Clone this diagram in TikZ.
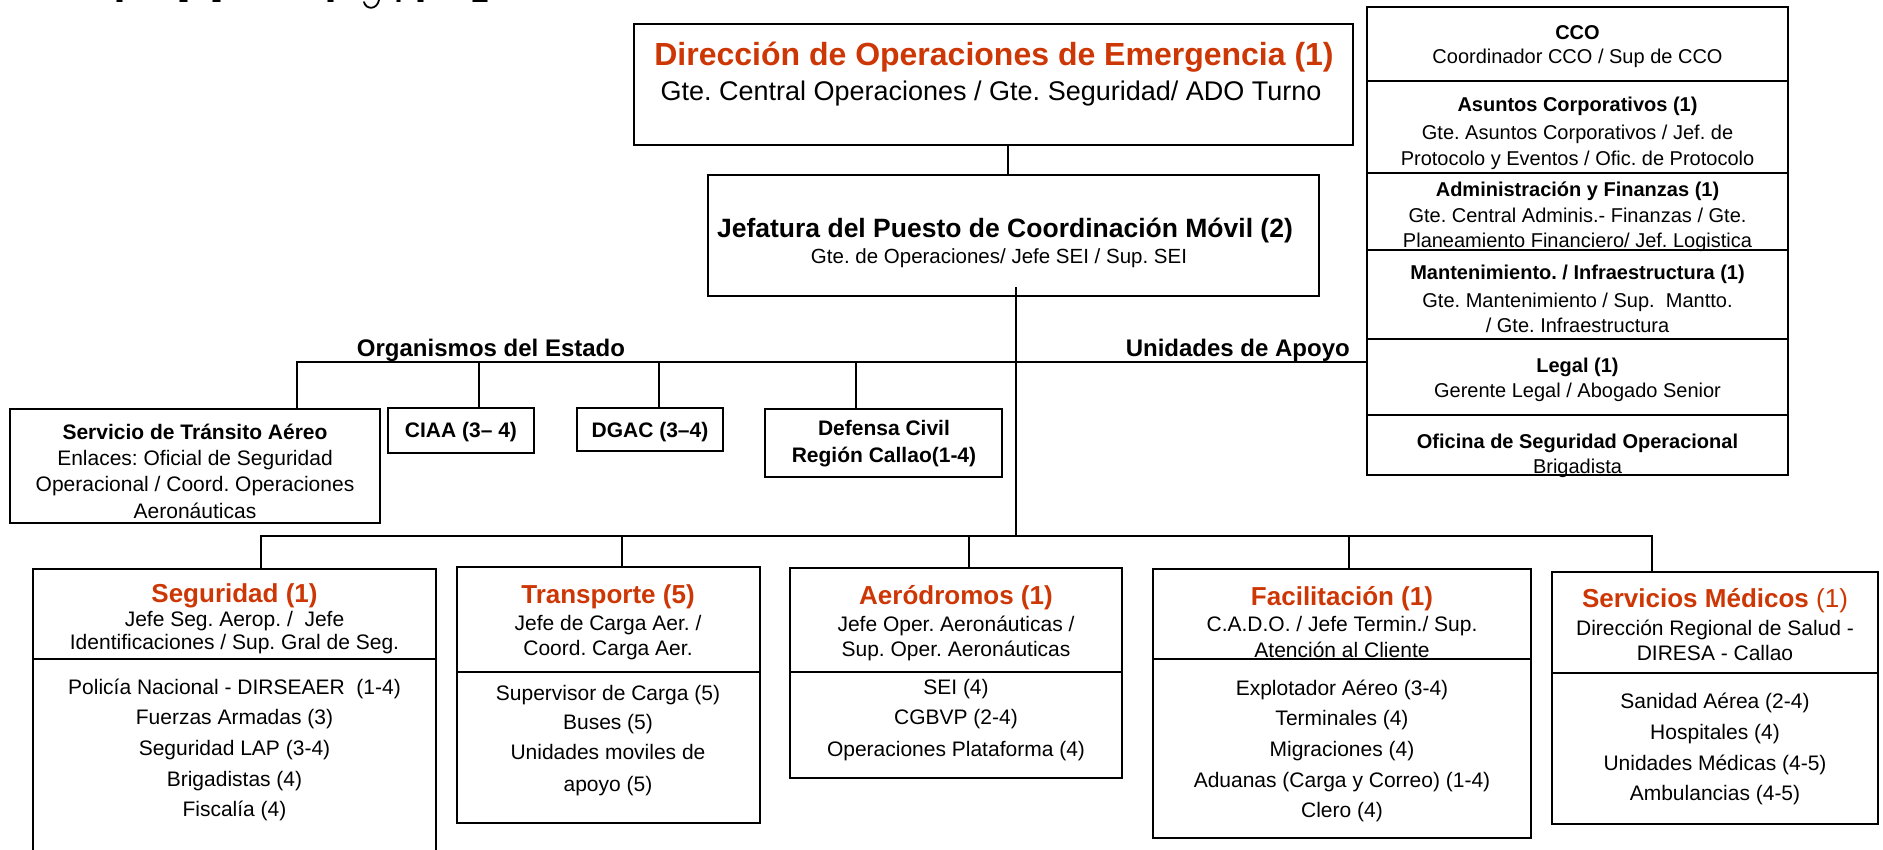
\documentclass[tikz,border=0pt]{standalone}
\usepackage{fontspec}
\setmainfont{Liberation Sans}
\usetikzlibrary{fit,calc}
\definecolor{orgred}{RGB}{205,55,5}
\frenchspacing
\tikzset{
  box/.style={draw=black, line width=1.6pt, inner sep=0pt},
  conn/.style={draw=black, line width=1.6pt},
  tx/.style={anchor=base, inner sep=0pt, font=\fontsize{21}{25}\selectfont},
  tb/.style={anchor=base, inner sep=0pt, font=\bfseries\fontsize{21}{25}\selectfont},
  sx/.style={anchor=base, inner sep=0pt, font=\fontsize{20}{24}\selectfont},
  sb/.style={anchor=base, inner sep=0pt, font=\bfseries\fontsize{20}{24}\selectfont},
  rt/.style={anchor=base, inner sep=0pt, text=orgred, font=\bfseries\fontsize{26}{30}\selectfont},
  lab/.style={anchor=base, inner sep=0pt, font=\bfseries\fontsize{24}{28}\selectfont},
}
\newcommand\txt[5]{\node[#1] (#2) at (#3,#4) {#5};}
\begin{document}
\begin{tikzpicture}[x=1pt,y=-1pt]
\useasboundingbox (0,0) rectangle (1883,850);

% fragments of a cut-off heading at the very top
\begin{scope}[line width=1.8pt, line cap=round]
\draw (117,1) -- (122,1);
\draw (180,1) -- (187,1);
\draw (213,1) -- (220,1);
\draw (328,1) -- (333,1);
\draw (397,1) -- (400,1);
\draw (418,1) -- (423,1);
\draw (473,1) -- (487,1);
\draw (364,2) .. controls (366,10) and (377,10) .. (379,0);
\end{scope}

% ---------- boxes ----------
\node[box, fit={(634,24) (1353,145)}] (doe) {};
\node[box, fit={(708,175) (1319,296)}] (jpcm) {};

\node[box, fit={(10,409) (380,523)}] (sta) {};
\node[box, fit={(388,408) (534,453)}] (ciaa) {};
\node[box, fit={(577,408) (723,451)}] (dgac) {};
\node[box, fit={(765,409) (1002,477)}] (defensa) {};

\node[box, fit={(1367,7) (1788,81)}] (cco) {};
\node[box, fit={(1367,81) (1788,173)}] (asuntos) {};
\node[box, fit={(1367,173) (1788,250)}] (admin) {};
\node[box, fit={(1367,250) (1788,339)}] (mant) {};
\node[box, fit={(1367,339) (1788,415)}] (legal) {};
\node[box, fit={(1367,415) (1788,475)}] (oficina) {};
\node[inner sep=0pt, fit=(cco) (oficina)] (apoyo) {};

\node[box, fit={(33,569) (436,880)}] (seg) {};
\node[box, fit={(457,567) (760,823)}] (trans) {};
\node[box, fit={(790,568) (1122,778)}] (aero) {};
\node[box, fit={(1153,569) (1531,838)}] (faci) {};
\node[box, fit={(1552,572) (1878,824)}] (sm) {};

% dividers
\draw[conn] (seg.west |- 0,659) -- (seg.east |- 0,659);
\draw[conn] (trans.west |- 0,672) -- (trans.east |- 0,672);
\draw[conn] (aero.west |- 0,672) -- (aero.east |- 0,672);
\draw[conn] (faci.west |- 0,659) -- (faci.east |- 0,659);
\draw[conn] (sm.west |- 0,673) -- (sm.east |- 0,673);

% ---------- connectors ----------
\coordinate (c1) at (1008,0);
\coordinate (c2) at (1016,0);
\coordinate (orgY) at (0,362);
\coordinate (busY) at (0,536);
\coordinate (tsta) at (297,0);
\coordinate (tciaa) at (479,0);
\coordinate (tdgac) at (659,0);
\coordinate (tdef) at (856,0);
\coordinate (tseg) at (261,0);
\coordinate (ttrans) at (622,0);
\coordinate (taero) at (969,0);
\coordinate (tfaci) at (1349,0);
\coordinate (tsm) at (1652,0);

\draw[conn] (doe.south -| c1) -- (jpcm.north -| c1);
\draw[conn] ($(jpcm.south -| c2)+(0,-10)$) -- (c2 |- busY);
\draw[conn] (sta.north -| tsta) -- (tsta |- orgY) -- (apoyo.west |- orgY);
\draw[conn] (ciaa.north -| tciaa) -- (tciaa |- orgY);
\draw[conn] (dgac.north -| tdgac) -- (tdgac |- orgY);
\draw[conn] (defensa.north -| tdef) -- (tdef |- orgY);
\draw[conn] (seg.north -| tseg) -- (tseg |- busY) -- (tsm |- busY) -- (sm.north -| tsm);
\draw[conn] (trans.north -| ttrans) -- (ttrans |- busY);
\draw[conn] (aero.north -| taero) -- (taero |- busY);
\draw[conn] (faci.north -| tfaci) -- (tfaci |- busY);

% ---------- texts ----------
\node[anchor=base, inner sep=0pt, text=orgred, font=\bfseries\fontsize{32}{36}\selectfont] (doe1) at (994,66) {Dirección de Operaciones de Emergencia (1)};
\node[anchor=base, inner sep=0pt, font=\fontsize{27}{31}\selectfont] (doe2) at (991,101) {Gte. Central Operaciones / Gte. Seguridad/ ADO Turno};
\node[anchor=base, inner sep=0pt, font=\bfseries\fontsize{26.5}{30}\selectfont] (jp1) at (1005,238) {Jefatura del Puesto de Coordinación Móvil (2)};
\node[anchor=base, inner sep=0pt, font=\fontsize{20.5}{24}\selectfont] (jp2) at (999,264) {Gte. de Operaciones/ Jefe SEI / Sup. SEI};

\txt{lab}{org}{491}{357}{Organismos del Estado}
\node[lab, anchor=base east] (uda) at (1350,357) {Unidades de Apoyo};

\txt{tb}{sta1}{195}{439}{Servicio de Tránsito Aéreo}
\txt{tx}{sta2}{195}{465}{Enlaces: Oficial de Seguridad}
\txt{tx}{sta3}{195}{491}{Operacional / Coord. Operaciones}
\txt{tx}{sta4}{195}{518}{Aeronáuticas}
\txt{tb}{ciaa1}{461}{437}{CIAA (3– 4)}
\txt{tb}{dgac1}{650}{437}{DGAC (3–4)}
\txt{tb}{def1}{884}{435}{Defensa Civil}
\txt{tb}{def2}{884}{462}{Región Callao(1-4)}

\txt{sb}{cco1}{1577.5}{40}{CCO}
\txt{sx}{cco2}{1577.5}{64}{Coordinador CCO / Sup de CCO}
\txt{sb}{as1}{1577.5}{112}{Asuntos Corporativos (1)}
\txt{sx}{as2}{1577.5}{140}{Gte. Asuntos Corporativos / Jef. de}
\txt{sx}{as3}{1577.5}{166}{Protocolo y Eventos / Ofic. de Protocolo}
\txt{sb}{ad1}{1577.5}{197}{Administración y Finanzas (1)}
\txt{sx}{ad2}{1577.5}{223}{Gte. Central Adminis.- Finanzas / Gte.}
\txt{sx}{ad3}{1577.5}{248}{Planeamiento Financiero/ Jef. Logistica}
\txt{sb}{ma1}{1577.5}{280}{Mantenimiento. / Infraestructura (1)}
\txt{sx}{ma2}{1577.5}{308}{Gte. Mantenimiento / Sup.\ \ Mantto.}
\txt{sx}{ma3}{1577.5}{333}{/ Gte. Infraestructura}
\txt{sb}{le1}{1577.5}{373}{Legal (1)}
\txt{sx}{le2}{1577.5}{398}{Gerente Legal / Abogado Senior}
\txt{sb}{of1}{1577.5}{448}{Oficina de Seguridad Operacional}
\txt{sx}{of2}{1577.5}{473}{Brigadista}

\txt{rt}{seg1}{234.5}{602}{Seguridad (1)}
\txt{tx}{seg2}{234.5}{626}{Jefe Seg. Aerop. /\ \ Jefe}
\txt{tx}{seg3}{234.5}{649}{Identificaciones / Sup. Gral de Seg.}
\txt{tx}{seg4}{234.5}{694}{Policía Nacional - DIRSEAER\ \ (1-4)}
\txt{tx}{seg5}{234.5}{724}{Fuerzas Armadas (3)}
\txt{tx}{seg6}{234.5}{755}{Seguridad LAP (3-4)}
\txt{tx}{seg7}{234.5}{786}{Brigadistas (4)}
\txt{tx}{seg8}{234.5}{816}{Fiscalía (4)}

\txt{rt}{tr1}{608}{603}{Transporte (5)}
\txt{tx}{tr2}{608}{630}{Jefe de Carga Aer. /}
\txt{tx}{tr3}{608}{655}{Coord. Carga Aer.}
\txt{tx}{tr4}{608}{700}{Supervisor de Carga (5)}
\txt{tx}{tr5}{608}{729}{Buses (5)}
\txt{tx}{tr6}{608}{759}{Unidades moviles de}
\txt{tx}{tr7}{608}{791}{apoyo (5)}

\txt{rt}{ae1}{956}{604}{Aeródromos (1)}
\txt{tx}{ae2}{956}{631}{Jefe Oper. Aeronáuticas /}
\txt{tx}{ae3}{956}{656}{Sup. Oper. Aeronáuticas}
\txt{tx}{ae4}{956}{694}{SEI (4)}
\txt{tx}{ae5}{956}{724}{CGBVP (2-4)}
\txt{tx}{ae6}{956}{756}{Operaciones Plataforma (4)}

\txt{rt}{fa1}{1342}{605}{Facilitación (1)}
\txt{tx}{fa2}{1342}{631}{C.A.D.O. / Jefe Termin./ Sup.}
\txt{tx}{fa3}{1342}{657}{Atención al Cliente}
\txt{tx}{fa4}{1342}{695}{Explotador Aéreo (3-4)}
\txt{tx}{fa5}{1342}{725}{Terminales (4)}
\txt{tx}{fa6}{1342}{756}{Migraciones (4)}
\txt{tx}{fa7}{1342}{787}{Aduanas (Carga y Correo) (1-4)}
\txt{tx}{fa8}{1342}{817}{Clero (4)}

\node[anchor=base, inner sep=0pt, text=orgred, font=\fontsize{26}{30}\selectfont] (sm1) at (1715,607) {\textbf{Servicios Médicos} (1)};
\txt{tx}{sm2}{1715}{635}{Dirección Regional de Salud -}
\txt{tx}{sm3}{1715}{660}{DIRESA - Callao}
\txt{tx}{sm4}{1715}{708}{Sanidad Aérea (2-4)}
\txt{tx}{sm5}{1715}{739}{Hospitales (4)}
\txt{tx}{sm6}{1715}{770}{Unidades Médicas (4-5)}
\txt{tx}{sm7}{1715}{800}{Ambulancias (4-5)}
\end{tikzpicture}
\end{document}
